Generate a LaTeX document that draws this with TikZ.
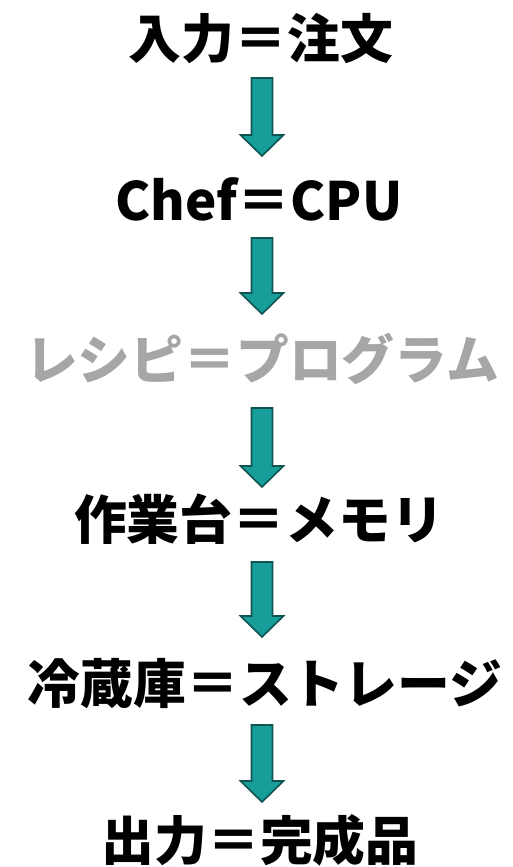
\documentclass[tikz,border=0pt]{standalone}
\usepackage{fontspec}
\newfontfamily\jp{Noto Sans CJK JP}
\usetikzlibrary{calc}
\definecolor{teal1}{RGB}{23,158,155}
\definecolor{teal2}{RGB}{16,84,82}
\definecolor{grayt}{RGB}{166,166,166}
\tikzset{
  lbl/.style={anchor=base, inner sep=0pt, font=\jp\bfseries\fontsize{53}{60}\selectfont, text=black},
  dim/.style={text=grayt},
  blk/.style={fill=teal1, draw=teal2, line width=1.6pt, line join=miter}
}
\newcommand\blockarrow[2]{%
  \draw[blk] ($(#1)+(-10.5,0)$) -- ($(#1)+(10.5,0)$) -- ($(#2)+(10.5,-21)$) -- ($(#2)+(21.5,-21)$)
    -- (#2) -- ($(#2)+(-21.5,-21)$) -- ($(#2)+(-10.5,-21)$) -- cycle;}
\begin{document}
\begin{tikzpicture}[x=1bp,y=-1bp]
\useasboundingbox (0,0) rectangle (513,867);
\node[lbl] (t1) at (261,58) {入力＝注文};
\node[lbl] (t2) at (259,220) {Chef＝CPU};
\node[lbl,dim] (t3) at (262,379) {レシピ＝プログラム};
\node[lbl] (t4) at (259,539) {作業台＝メモリ};
\node[lbl] (t5) at (265,703) {冷蔵庫＝ストレージ};
\node[lbl] (t6) at (260,860) {出力＝完成品};
\coordinate (a1s) at (262,78);  \coordinate (a1e) at (262,156);
\coordinate (a2s) at (262,238); \coordinate (a2e) at (262,314);
\coordinate (a3s) at (262,408); \coordinate (a3e) at (262,487);
\coordinate (a4s) at (262,562); \coordinate (a4e) at (262,637);
\coordinate (a5s) at (262,725); \coordinate (a5e) at (262,802);
\blockarrow{a1s}{a1e}
\blockarrow{a2s}{a2e}
\blockarrow{a3s}{a3e}
\blockarrow{a4s}{a4e}
\blockarrow{a5s}{a5e}
\end{tikzpicture}
\end{document}
